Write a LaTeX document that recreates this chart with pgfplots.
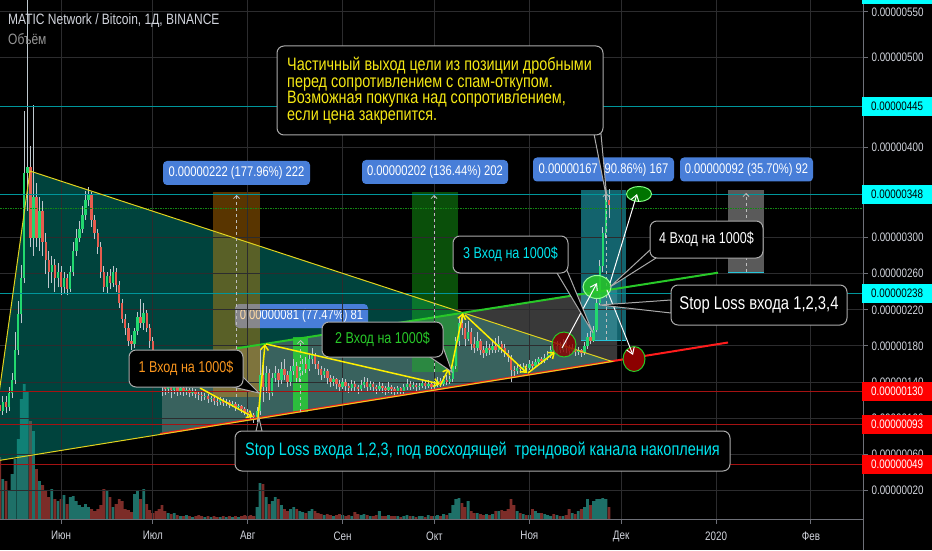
\documentclass[border=0pt]{standalone}
\usepackage{fontspec}
\setmainfont[FakeStretch=0.8]{Liberation Sans}
\usepackage{pgfplots}
\usepackage{pgfplotstable}
\pgfplotsset{compat=1.18}
\usetikzlibrary{arrows.meta}

\newcommand{\fs}[1]{\fontsize{#1}{#1}\selectfont}

\definecolor{gridc}{RGB}{44,44,46}
\definecolor{axisc}{RGB}{110,112,120}
\definecolor{txt}{RGB}{209,212,220}
\definecolor{upc}{RGB}{34,216,110}
\definecolor{dnc}{RGB}{230,92,78}
\definecolor{wick}{RGB}{190,200,206}
\definecolor{volup}{RGB}{30,112,104}
\definecolor{voldn}{RGB}{124,44,40}
\definecolor{lvlcyan}{RGB}{0,150,155}
\definecolor{lvlred}{RGB}{165,18,18}
\definecolor{lvlgreen}{RGB}{20,135,20}
\definecolor{tealfill}{RGB}{0,150,136}
\definecolor{chgray}{RGB}{150,150,150}
\definecolor{posorange}{RGB}{255,152,0}
\definecolor{posgreen}{RGB}{25,190,25}
\definecolor{posgreenb}{RGB}{40,220,50}
\definecolor{poscyan}{RGB}{38,198,218}
\definecolor{posgray}{RGB}{150,150,150}
\definecolor{tvblue}{RGB}{72,126,216}
\definecolor{trendyel}{RGB}{225,210,30}
\definecolor{arryel}{RGB}{255,240,0}
\definecolor{trendred}{RGB}{255,28,28}
\definecolor{trendgreen}{RGB}{40,200,40}
\definecolor{bord}{RGB}{170,170,170}
\definecolor{noteyel}{RGB}{245,232,20}
\definecolor{notecyan}{RGB}{0,230,240}
\definecolor{notegreen}{RGB}{40,200,40}
\definecolor{noteorange}{RGB}{250,150,30}
\definecolor{badgecyan}{RGB}{0,255,255}
\definecolor{badgered}{RGB}{255,0,0}
\definecolor{dimtxt}{RGB}{150,150,150}

% daily candles, MATIC/BTC in satoshi (1e-8 BTC); d = days from 1 June 2019; v = volume (arbitrary units)
\pgfplotstableread{
d o h l c v
-20 115 122 100 108 62
-19 108 125 104 118 40
-18 118 124 106 112 38
-17 112 135 108 128 28
-16 128 150 122 142 45
-15 142 195 138 175 60
-14 175 230 170 215 80
-13 215 270 205 255 120
-12 255 440 250 372 135
-11 372 600 330 378 128
-10 378 402 290 300 98
-9 300 447 280 345 88
-8 345 360 290 300 50
-7 300 345 285 330 38
-6 330 340 280 295 34
-5 295 305 260 275 28
-4 275 285 244 262 22
-3 262 280 250 270 30
-2 270 276 240 255 20
-1 255 272 245 262 18
0 262 268 236 245 20
1 245 262 238 255 24
2 255 260 236 243 15
3 243 268 240 262 22
4 262 295 258 285 23
5 285 310 280 300 18
6 300 318 295 310 14
7 310 335 305 325 12
8 325 352 320 342 15
9 342 356 335 348 12
10 348 350 312 320 10
11 320 325 298 305 8
12 305 310 282 290 10
13 290 295 255 262 14
14 262 268 240 245 30
15 245 262 238 258 28
16 258 265 243 250 22
17 250 268 245 262 12
18 262 266 240 248 15
19 248 252 222 228 20
20 228 232 205 210 18
21 210 215 192 200 10
22 200 205 180 186 9
23 186 192 176 182 7
24 182 200 178 196 25
25 196 218 192 212 28
26 212 232 200 205 20
27 205 228 198 216 30
28 216 220 195 200 15
29 200 204 178 185 9
30 185 190 164 170 6
31 170 176 150 162 8
32 162 166 140 150 10
33 150 155 124 138 14
34 138 145 126 132 8
35 132 140 128 136 6
36 136 138 122 131 5
37 131 140 127 134 6
38 134 137 125 130 4
39 130 136 126 133 3
40 133 135 124 129 3
41 129 134 126 131 4
42 131 133 123 128 3
43 128 133 125 130 2
44 130 132 122 127 3
45 127 130 120 126 4
46 126 129 119 124 3
47 124 128 120 125 2
48 125 127 117 121 3
49 121 125 118 122 2
50 122 124 115 119 3
51 119 122 114 118 2
52 118 123 115 120 2
53 120 122 113 117 3
54 117 121 114 118 2
55 118 120 111 115 3
56 115 119 112 116 2
57 116 118 108 112 3
58 112 116 109 113 2
59 113 115 106 110 3
60 110 112 103 107 4
61 107 110 101 105 3
62 105 108 98 103 4
63 103 106 95 101 3
64 101 112 96 108 12
65 108 175 104 148 36
66 148 162 118 135 35
67 135 158 128 150 22
68 150 155 120 128 15
69 128 150 124 145 18
70 145 158 140 150 22
71 150 155 135 142 20
72 142 162 138 155 14
73 155 165 142 148 10
74 148 152 134 140 8
75 140 158 136 152 10
76 152 165 148 158 12
77 158 162 140 145 10
78 145 157 140 152 8
79 152 166 148 160 7
80 160 168 150 155 6
81 155 170 152 165 8
82 165 178 160 170 10
83 170 172 155 160 8
84 160 163 148 154 6
85 154 158 142 148 5
86 148 156 144 152 4
87 152 155 138 144 5
88 144 148 134 140 4
89 140 147 136 143 3
90 143 145 132 138 4
91 138 142 130 135 5
92 135 145 132 140 4
93 140 143 130 136 3
94 136 139 128 133 4
95 133 142 130 138 3
96 138 141 129 134 7
97 134 137 127 132 5
98 132 142 129 137 4
99 137 146 133 140 5
100 140 144 130 135 4
101 135 141 131 138 3
102 138 140 129 134 3
103 134 137 127 132 4
104 132 140 129 136 8
105 136 139 128 133 3
106 133 136 126 131 3
107 131 140 128 135 4
108 135 137 127 132 3
109 132 134 125 130 3
110 130 136 127 133 3
111 133 135 126 130 2
112 130 138 127 134 3
113 134 143 131 138 4
114 138 141 131 135 3
115 135 140 132 137 3
116 137 139 130 134 2
117 134 139 131 136 3
118 136 142 133 139 3
119 139 141 132 136 2
120 136 142 133 138 4
121 138 140 131 135 3
122 135 141 132 137 3
123 137 146 134 141 4
124 141 144 135 138 3
125 138 147 136 142 5
126 142 148 137 140 4
127 140 147 138 143 6
128 143 162 140 158 14
129 158 190 154 185 20
130 185 212 180 205 21
131 205 218 192 200 16
132 200 205 180 188 12
133 188 208 185 195 18
134 195 200 176 182 8
135 182 190 172 178 6
136 178 195 174 185 6
137 185 188 170 176 5
138 176 180 167 172 4
139 172 185 169 178 5
140 178 182 170 175 4
141 175 186 172 180 5
142 180 189 172 176 8
143 176 191 173 182 8
144 182 186 172 178 9
145 178 182 168 172 8
146 172 175 162 168 10
147 168 170 140 153 20
148 153 158 146 152 14
149 152 160 149 156 8
150 156 160 150 154 6
151 154 161 151 157 5
152 157 160 152 156 4
153 156 164 153 160 4
154 160 163 155 158 10
155 158 166 156 162 8
156 162 168 159 165 6
157 165 168 160 163 6
158 163 171 161 167 5
159 167 174 164 170 4
160 170 180 167 175 3
161 175 182 168 172 5
162 172 186 170 180 4
163 180 184 172 176 3
164 176 188 173 182 3
165 182 186 172 178 4
166 178 181 170 174 10
167 174 182 171 177 6
168 177 179 169 173 5
169 173 179 170 175 8
170 175 177 168 172 10
171 172 184 170 180 12
172 180 194 177 190 20
173 190 196 182 186 14
174 186 202 184 198 18
175 198 232 195 228 20
176 228 275 225 268 20
177 268 312 262 305 21
178 305 360 300 342 20
179 342 354 322 336 12
}\candles

\pgfplotsset{
  chart/.style={at={(0pt,31pt)}, anchor=south west, scale only axis,
    width=863pt, height=519pt, xmin=-19.93, xmax=262},
  upday/.style={restrict expr to domain={\thisrow{c}-\thisrow{o}}{0:10000}},
  downday/.style={restrict expr to domain={\thisrow{c}-\thisrow{o}}{-10000:-0.01}},
}

\begin{document}
\begin{tikzpicture}[
  lbl/.style={fill=tvblue, rounded corners=4pt, text=white, font=\fs{14}, inner sep=0pt, minimum height=24pt},
  bal/.style={fill=black, draw=bord, line width=1pt, rounded corners=7pt, inner sep=0pt, font=\fs{15.7}},
  tail/.style={fill=black, draw=bord, line width=1pt},
  yarr/.style={arryel, line width=1.5pt, -{Straight Barb[length=5pt,width=8pt]}},
  warr/.style={white, line width=1pt, -{Straight Barb[length=6pt,width=8pt]}},
  mid/.style={white!75!black, line width=0.8pt, dash pattern=on 3pt off 3pt, -{Straight Barb[length=3pt,width=6pt]}},
]
\fill[black] (0,0) rectangle (932pt,550pt);
\useasboundingbox (0,0) rectangle (932pt,550pt);

% volume pane (drawn first, the drawings lie over it)
\begin{axis}[chart, ymin=0, ymax=519, hide axis]
  \addplot[ybar, bar width=2.8pt, bar shift=0pt, fill=volup, draw=none, upday]
    table[x=d, y=v] {\candles};
  \addplot[ybar, bar width=2.8pt, bar shift=0pt, fill=voldn, draw=none, downday]
    table[x=d, y=v] {\candles};
\end{axis}

% filled drawings that lie under the candles (pixel frame, y downwards)
\begin{scope}[x=1pt, y=-1pt, shift={(0pt,550pt)}]
  \clip (0,0) rectangle (863,519);
  \fill[tealfill, opacity=0.45] (-10.5,462) -- (30,171) -- (612,361.5) -- cycle;
  \fill[chgray, opacity=0.38] (162,360) -- (617,288.6) -- (617,360) -- (162,434) -- cycle;
  \node[lbl, minimum width=133pt] at (301.5,316) {0.00000081 (77.47\%) 81};
  \fill[posorange, opacity=0.35] (213,192) rectangle (260,397);
  \fill[posgreenb, opacity=0.75] (293,337) rectangle (308,412);
  \fill[posgreen, opacity=0.42] (412,192) rectangle (458,372);
  \fill[poscyan, opacity=0.5] (581,190) rectangle (626,340);
  \draw[poscyan, line width=1pt] (581,340) -- (626,340);
  \fill[posgray, opacity=0.6] (728,190) rectangle (764,272);
  \draw[poscyan, line width=1pt] (728,272) -- (764,272);
\end{scope}

% price: grid, scales and candles
\begin{axis}[chart, ymin=-11.7, ymax=563.2,
  axis x line*=bottom, axis y line*=right,
  axis line style={axisc, line width=1pt},
  xtick={0,30,61,92,122,153,183,214,245},
  xticklabels={Июн,Июл,Авг,Сен,Окт,Ноя,Дек,2020,Фев},
  ytick={20,60,100,140,180,220,260,300,400,500,550},
  yticklabels={0.00000020,0.00000060,0.00000100,0.00000140,0.00000180,0.00000220,0.00000260,0.00000300,0.00000400,0.00000500,0.00000550},
  grid=major, major grid style={gridc, line width=1pt},
  tick align=outside, major tick length=5pt,
  tick style={axisc, line width=1pt},
  tick label style={font=\fs{12.3}, text=txt},
  xticklabel style={yshift=-4pt},
  yticklabel style={anchor=west},
]
  \addplot[wick, line width=0.8pt, quiver={u=0, v={\thisrow{h}-\thisrow{l}}}]
    table[x=d, y=l] {\candles};
  \addplot[upc, line width=2.4pt, upday, quiver={u=0, v={\thisrow{c}-\thisrow{o}}}]
    table[x=d, y=o] {\candles};
  \addplot[dnc, line width=2.4pt, downday, quiver={u=0, v={\thisrow{c}-\thisrow{o}}}]
    table[x=d, y=o] {\candles};
\end{axis}

% horizontal price levels
\begin{axis}[chart, ymin=-11.7, ymax=563.2, hide axis]
  \addplot[lvlcyan, line width=1.2pt] coordinates {(-19.93,445) (262,445)};
  \addplot[lvlcyan, line width=1.2pt] coordinates {(-19.93,348) (262,348)};
  \addplot[lvlcyan, line width=1.2pt] coordinates {(-19.93,238) (262,238)};
  \addplot[lvlgreen, line width=1.2pt, dash pattern=on 1.5pt off 1pt] coordinates {(-19.93,332) (262,332)};
  \addplot[lvlred, line width=1pt] coordinates {(-19.93,130) (262,130)};
  \addplot[lvlred, line width=1pt] coordinates {(-19.93,93) (262,93)};
  \addplot[lvlred, line width=1pt] coordinates {(-19.93,49) (262,49)};
\end{axis}

% drawings on top (pixel frame, y downwards)
\begin{scope}[x=1pt, y=-1pt, shift={(0pt,550pt)}]
  \begin{scope}
    \clip (0,0) rectangle (863,519);
    \draw[trendred, line width=2pt] (160,434) -- (728,342.5);
    \draw[trendyel, line width=1pt] (-10.5,462) -- (30,171) -- (612,361.5) -- cycle;
    \draw[trendgreen, line width=2pt] (237,348.3) -- (718,272.7);
    \draw[mid] (236.5,397) -- (236.5,195);
    \draw[mid] (300.5,412) -- (300.5,340);
    \draw[mid] (434,372) -- (434,195);
    \draw[mid] (606,340) -- (606,193);
    \draw[mid] (746,272) -- (746,193);
    % zig-zag of the accumulation channel
    \draw[yarr] (200,388) -- (253,417);
    \draw[yarr] (258,418) -- (265,344);
    \draw[yarr] (266,344) -- (440,384);
    \draw[yarr] (440,386) -- (449,368);
    \draw[yarr] (451,370) -- (463,313);
    \draw[yarr] (465,315) -- (527,373);
    \draw[yarr] (528,373) -- (555,352);
    % entry circles
    \draw[fill=red!55!black, fill opacity=0.8, draw=trendgreen, line width=1pt] (564,344.5) ellipse [x radius=12, y radius=12.5];
    \draw[fill=trendgreen, fill opacity=0.85, draw=green!40!white, line width=1pt] (597,287) ellipse [x radius=14, y radius=11.5];
    \draw[fill=green!45!black, draw=green!50!white, line width=1pt] (639,194) ellipse [x radius=12.5, y radius=7.5];
    \draw[fill=red!55!black, draw=trendgreen, line width=1pt] (634,359) ellipse [x radius=11, y radius=12.5];
    \draw[warr] (562,348) -- (597,283);
    \draw[warr] (610,283) -- (637,194);
    \draw[warr] (607,290) -- (633,355);
  \end{scope}

  % position labels
  \node[lbl, minimum width=147pt] at (236.5,173) {0.00000222 (177.96\%) 222};
  \node[lbl, minimum width=146pt] at (435,172) {0.00000202 (136.44\%) 202};
  \node[lbl, minimum width=141pt] at (603.5,169.5) {0.00000167 (90.86\%) 167};
  \node[lbl, minimum width=133pt] at (746.5,169.5) {0.00000092 (35.70\%) 92};

  % callouts
  \filldraw[tail] (233,387) -- (259,393) -- (243,377) -- cycle;
  \node[bal, minimum width=114pt, minimum height=37pt, text=noteorange] at (186,368.5) {1 Вход на 1000\$};
  \filldraw[tail] (430,357) -- (452,372) -- (443,347) -- cycle;
  \node[bal, minimum width=121pt, minimum height=35pt, text=notegreen] at (382.5,339.5) {2 Вход на 1000\$};
  \filldraw[tail] (557,273) -- (593,333) -- (566,268) -- cycle;
  \node[bal, minimum width=115pt, minimum height=37pt, text=notecyan] at (510.5,254.5) {3 Вход на 1000\$};
  \filldraw[tail] (650,250) -- (610,287) -- (656,258) -- cycle;
  \node[bal, minimum width=113pt, minimum height=37pt, text=white] at (706.5,239.5) {4 Вход на 1000\$};
  \filldraw[tail] (671,300) -- (600,305) -- (671,313) -- cycle;
  \node[bal, minimum width=176pt, minimum height=40pt, text=white, font=\fs{18.5}] at (759,305) {Stop Loss входа 1,2,3,4};
  \filldraw[tail] (256,431) -- (259,418) -- (262,431) -- cycle;
  \node[bal, minimum width=495pt, minimum height=40pt, text=notecyan, font=\fs{18.1}] at (482.5,451) {Stop Loss входа 1,2,3, под восходящей\ \ трендовой канала накопления};
  \filldraw[tail] (594,134) -- (607,200) -- (601,134) -- cycle;
  \filldraw[fill=black, draw=bord, line width=1pt, rounded corners=7pt] (277,46) rectangle (603,135);
  \node[anchor=west, align=left, inner sep=0pt, text=noteyel, font=\fontsize{18}{16.5}\selectfont] at (287,90.5)
    {Частичный выход цели из позиции дробными\\перед сопротивлением с спам-откупом.\\Возможная покупка над сопротивлением,\\если цена закрепится.};

  % legend of the chart
  \node[anchor=base west, inner sep=0pt, text=txt, font=\fs{15}] at (8,25) {MATIC Network / Bitcoin, 1Д, BINANCE};
  \node[anchor=base west, inner sep=0pt, text=dimtxt, font=\fs{15}] at (8,44.5) {Объём};

  % price scale badges
  \draw[axisc, line width=1pt] (863,519) -- (863,550);
  \fill[badgecyan] (862,0) rectangle (932,4);
  \foreach \y/\t in {106.7/0.00000445, 194.3/0.00000348, 293.6/0.00000238} {
    \fill[badgecyan] (862,\y-9.5) rectangle (932,\y+9.5);
    \node[anchor=west, inner sep=0pt, text=black, font=\fs{12.3}] at (871,\y) {\t};
  }
  \foreach \y/\t in {391.1/0.00000130, 424.5/0.00000093, 464.2/0.00000049} {
    \fill[badgered] (862,\y-9.5) rectangle (932,\y+9.5);
    \node[anchor=west, inner sep=0pt, text=white, font=\fs{12.3}] at (871,\y) {\t};
  }
\end{scope}
\end{tikzpicture}
\end{document}
